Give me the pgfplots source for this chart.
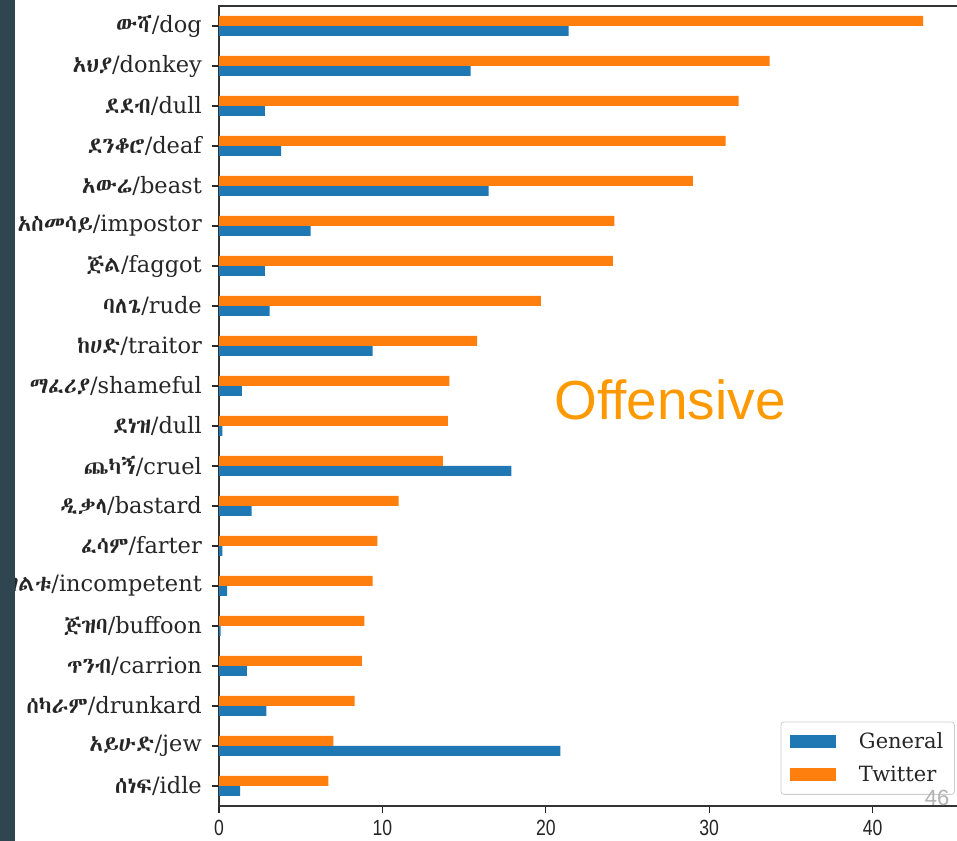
\documentclass[border=0pt]{standalone}
\usepackage{fontspec}
\usepackage{graphicx}
\usepackage{pgfplots}
\pgfplotsset{compat=1.18}

\setmainfont{DejaVu Serif}
\newfontfamily\ticksfont{Liberation Sans}
\newfontfamily\slidefont{Liberation Sans}
% Ethiopic labels: take the first family that is installed
\IfFontExistsTF{Abyssinica SIL}{\newfontfamily\eth{Abyssinica SIL}}{%
  \IfFontExistsTF{Noto Sans Ethiopic}{\newfontfamily\eth{Noto Sans Ethiopic}}{%
    \IfFontExistsTF{Noto Serif Ethiopic}{\newfontfamily\eth{Noto Serif Ethiopic}}{%
      \IfFontExistsTF{FreeSerif}{\newfontfamily\eth{FreeSerif}}{%
        \newfontfamily\eth{DejaVu Sans}}}}}

\definecolor{tabblue}{HTML}{1F77B4}
\definecolor{taborange}{HTML}{FF7F0E}
\definecolor{slidebar}{HTML}{2F4550}
\definecolor{slideorange}{HTML}{FF9900}

\begin{document}
\begin{tikzpicture}
\useasboundingbox (0,0) rectangle (957bp,841bp);
\fill[white] (0,0) rectangle (957bp,841bp);
\begin{axis}[
    at={(219bp,35bp)}, anchor=south west,
    scale only axis, width=741bp, height=800bp,
    xmin=0, xmax=45.35,
    ymin=-0.5, ymax=19.5,
    xtick={0,10,20,30,40},
    ytick={0,...,19},
    yticklabels={
      {\eth ሰነፍ}/idle, {\eth አይሁድ}/jew, {\eth ሰካራም}/drunkard,
      {\eth ጥንብ}/carrion, {\eth ጅዝባ}/buffoon, {\eth ገልቱ}/incompetent,
      {\eth ፈሳም}/farter, {\eth ዲቃላ}/bastard, {\eth ጨካኝ}/cruel,
      {\eth ደነዝ}/dull, {\eth ማፈሪያ}/shameful, {\eth ከሀድ}/traitor,
      {\eth ባለጌ}/rude, {\eth ጅል}/faggot, {\eth አስመሳይ}/impostor,
      {\eth አውሬ}/beast, {\eth ደንቆሮ}/deaf, {\eth ደደብ}/dull,
      {\eth አህያ}/donkey, {\eth ውሻ}/dog},
    yticklabel style={font=\fontsize{22.5bp}{25bp}\selectfont, color=black!85,
                      inner sep=0pt, xshift=-10bp},
    /pgf/number format/assume math mode=true,
    xticklabel={\scalebox{0.8}[1]{\ticksfont\pgfmathprintnumber{\tick}}},
    xticklabel style={font=\fontsize{22bp}{24bp}\selectfont, color=black!85,
                      inner sep=0pt, yshift=-7bp},
    tick pos=left, tick align=outside,
    major tick length=7bp,
    tick style={black!85, line width=1.1bp},
    axis line style={black!80, line width=1.4bp},
    legend cell align=left,
    legend style={
      at={(0.993,0.014)}, anchor=south east,
      draw=black!20, rounded corners=3bp, line width=0.8bp,
      font=\fontsize{21bp}{24bp}\selectfont, text=black!85,
      inner xsep=9bp, inner ysep=9bp, row sep=12bp,
      nodes={inner sep=2bp},
      /tikz/every odd column/.append style={column sep=21bp}},
    legend image code/.code={\fill[#1, sharp corners] (0bp,-6.5bp) rectangle (46bp,6.5bp);},
]
% General (blue, lower bar of each pair)
\addplot[xbar, bar width=0.25, bar shift=-0.125, fill=tabblue, draw=none]
  coordinates {(1.3,0) (20.9,1) (2.9,2) (1.7,3) (0.1,4) (0.5,5) (0.2,6)
               (2.0,7) (17.9,8) (0.2,9) (1.4,10) (9.4,11) (3.1,12) (2.8,13)
               (5.6,14) (16.5,15) (3.8,16) (2.8,17) (15.4,18) (21.4,19)};
% Twitter (orange, upper bar of each pair)
\addplot[xbar, bar width=0.25, bar shift=0.125, fill=taborange, draw=none]
  coordinates {(6.7,0) (7.0,1) (8.3,2) (8.75,3) (8.9,4) (9.4,5) (9.7,6)
               (11.0,7) (13.7,8) (14.0,9) (14.1,10) (15.8,11) (19.7,12) (24.1,13)
               (24.2,14) (29.0,15) (31.0,16) (31.8,17) (33.7,18) (43.1,19)};
\legend{General, Twitter}
\end{axis}
\node[font=\slidefont\fontsize{55bp}{60bp}\selectfont, text=slideorange]
  at (670bp,441bp) {Offensive};
\node[font=\slidefont\fontsize{22bp}{24bp}\selectfont, text=black!30]
  at (937bp,43bp) {46};
\fill[slidebar] (0,0) rectangle (15bp,841bp);
\end{tikzpicture}
\end{document}
